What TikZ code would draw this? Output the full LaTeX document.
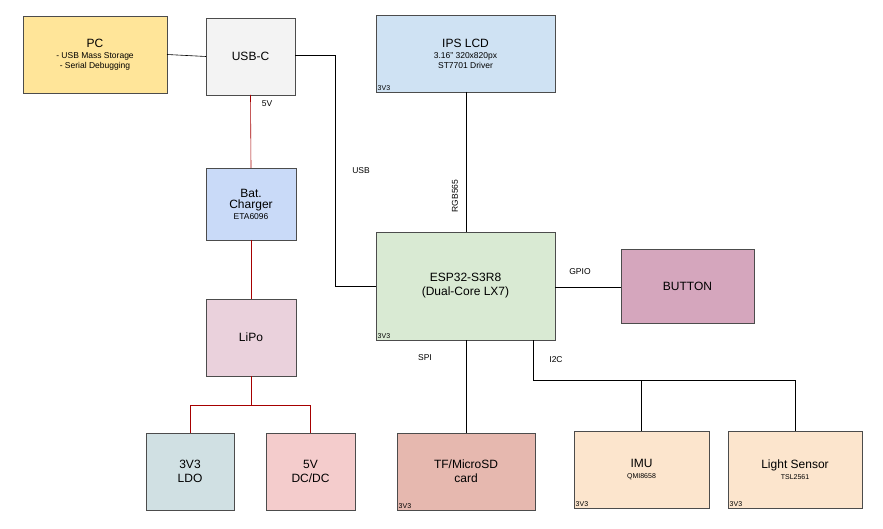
\documentclass[tikz,border=0pt]{standalone}
\usepackage{fontspec}
\setmainfont{Liberation Sans}
\begin{document}
\begin{tikzpicture}[x=1pt,y=-1pt,
  box/.style={draw=black!70,line width=0.6pt,inner sep=0pt,align=center},
  big/.style={font=\fontsize{12}{14}\selectfont},
  sub/.style={font=\fontsize{8.5}{10}\selectfont},
  tiny/.style={font=\fontsize{7}{8}\selectfont,anchor=south west,inner sep=1.5pt},
  lbl/.style={font=\fontsize{8.5}{10}\selectfont},
  blk/.style={draw=black,line width=0.6pt},
  red/.style={draw=red!65!black,line width=0.6pt}]
\useasboundingbox (0,0) rectangle (883,529);
\definecolor{cpc}{HTML}{FFE599}\definecolor{cusb}{HTML}{F3F3F3}
\definecolor{clcd}{HTML}{CFE2F3}\definecolor{cbat}{HTML}{C9DAF8}
\definecolor{cesp}{HTML}{D9EAD3}\definecolor{cbtn}{HTML}{D5A6BD}
\definecolor{clipo}{HTML}{EAD1DC}\definecolor{cldo}{HTML}{D0E0E3}
\definecolor{cdc}{HTML}{F4CCCC}\definecolor{ctf}{HTML}{E6B8AF}
\definecolor{cimu}{HTML}{FCE5CD}
\newcommand\bx[6]{\path[box,fill=#6] (#2,#3) rectangle (#4,#5); \coordinate (#1) at ({(#2+#4)/2},{(#3+#5)/2});
 \coordinate (#1-n) at ({(#2+#4)/2},#3); \coordinate (#1-s) at ({(#2+#4)/2},#5);
 \coordinate (#1-w) at (#2,{(#3+#5)/2}); \coordinate (#1-e) at (#4,{(#3+#5)/2}); \coordinate (#1-sw) at (#2,#5);}
\bx{pc}{23}{16}{167}{93}{cpc}
\bx{usb}{206}{18}{295}{95}{cusb}
\bx{lcd}{376}{15}{555}{92}{clcd}
\bx{bat}{206}{168}{296}{240}{cbat}
\bx{esp}{376}{232}{555}{340}{cesp}
\bx{btn}{621}{249}{754}{323}{cbtn}
\bx{lipo}{206}{299}{296}{376}{clipo}
\bx{ldo}{146}{433}{234}{510}{cldo}
\bx{dc}{266}{433}{355}{510}{cdc}
\bx{tf}{397}{433}{535}{510}{ctf}
\bx{imu}{574}{431}{709}{508}{cimu}
\bx{ls}{728}{431}{862}{508}{cimu}
\node[align=center] (tpc) at (pc) {{\fontsize{12}{14}\selectfont PC}\\[-1pt]{\fontsize{8.5}{10}\selectfont - USB Mass Storage}\\[-2pt]{\fontsize{8.5}{10}\selectfont - Serial Debugging}};
\node[big] (tusb) at (usb) {USB-C};
\node[align=center] (tlcd) at (lcd) {{\fontsize{12}{14}\selectfont IPS LCD}\\[-1pt]{\fontsize{8.5}{10}\selectfont 3.16" 320x820px}\\[-2pt]{\fontsize{8.5}{10}\selectfont ST7701 Driver}};
\node[tiny] (vlcd) at (lcd-sw) {3V3};
\node[align=center] (tbat) at (bat) {{\fontsize{12}{14}\selectfont Bat.}\\[-1pt]{\fontsize{12}{14}\selectfont Charger}\\[-1pt]{\fontsize{8.5}{10}\selectfont ETA6096}};
\node[big,align=center] (tesp) at (esp) {ESP32-S3R8\\(Dual-Core LX7)};
\node[tiny] (vesp) at (esp-sw) {3V3};
\node[big] (tbtn) at (btn) {BUTTON};
\node[big] (tlipo) at (lipo) {LiPo};
\node[big,align=center] (tldo) at (ldo) {3V3\\LDO};
\node[big,align=center] (tdc) at (dc) {5V\\DC/DC};
\node[big,align=center] (ttf) at (tf) {TF/MicroSD\\card};
\node[tiny] (vtf) at (tf-sw) {3V3};
\node[align=center] (timu) at (imu) {{\fontsize{12}{14}\selectfont IMU}\\[-1pt]{\fontsize{7}{8}\selectfont QMI8658}};
\node[tiny] (vimu) at (imu-sw) {3V3};
\node[align=center] (tls) at (ls) {{\fontsize{12}{14}\selectfont Light Sensor}\\[-1pt]{\fontsize{7}{8}\selectfont TSL2561}};
\node[tiny] (vls) at (ls-sw) {3V3};
% connectors
\draw[blk] (pc-e) -- (usb-w);
\draw[red] (usb-s) -- (bat-n);
\draw[red] (bat-s) -- (lipo-n);
\draw[red] (lipo-s) -- ++(0,29) -| (ldo-n);
\draw[red] (lipo-s) -- ++(0,29) -| (dc-n);
\draw[blk] (usb-e |- 0,55) -- (335,55) |- (esp-w);
\draw[blk] (466,92) -- (466,232);
\draw[blk] (esp-e |- 0,287) -- (btn-w |- 0,287);
\draw[blk] (466,340) -- (466,433);
\draw[blk] (533,340) -- (533,380) -| (795,431);
\draw[blk] (641,380) -- (641,431);
\node[lbl] (l5v) at (267,104) {5V};
\node[lbl] (lusb) at (361,171) {USB};
\node[lbl,rotate=90] (lrgb) at (455,196) {RGB565};
\node[lbl] (lgpio) at (580,272) {GPIO};
\node[lbl] (lspi) at (425,358) {SPI};
\node[lbl] (li2c) at (556,360) {I2C};
\end{tikzpicture}
\end{document}
